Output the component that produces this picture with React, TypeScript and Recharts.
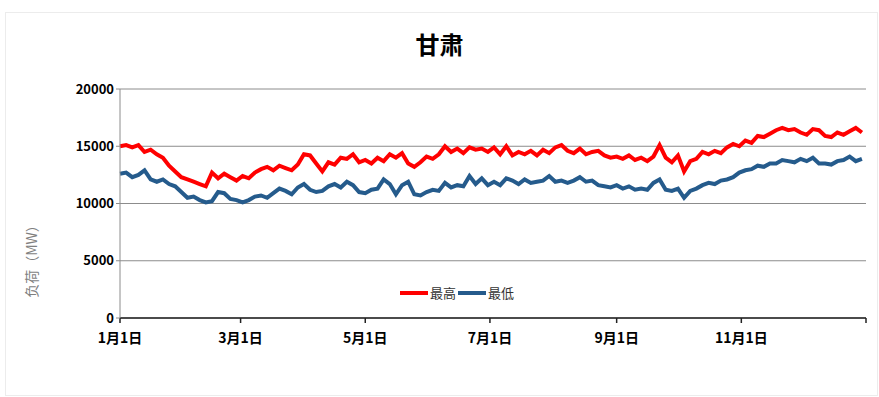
import { CartesianGrid, Line, LineChart, XAxis, YAxis } from 'recharts';

// 每3天取一个点（第0天=1月1日）
const days = [
  0, 3, 6, 9, 12, 15, 18, 21, 24, 27, 30, 33, 36, 39, 42, 45, 48, 51, 54, 57,
  60, 63, 66, 69, 72, 75, 78, 81, 84, 87, 90, 93, 96, 99, 102, 105, 108, 111, 114, 117,
  120, 123, 126, 129, 132, 135, 138, 141, 144, 147, 150, 153, 156, 159, 162, 165, 168, 171, 174, 177,
  180, 183, 186, 189, 192, 195, 198, 201, 204, 207, 210, 213, 216, 219, 222, 225, 228, 231, 234, 237,
  240, 243, 246, 249, 252, 255, 258, 261, 264, 267, 270, 273, 276, 279, 282, 285, 288, 291, 294, 297,
  300, 303, 306, 309, 312, 315, 318, 321, 324, 327, 330, 333, 336, 339, 342, 345, 348, 351, 354, 357,
  360, 363,
];

const maxLoad = [
  15000, 15100, 14900, 15100, 14500, 14700, 14300, 14000, 13300, 12800, 12300, 12100, 11900, 11700, 11500, 12700, 12200, 12600, 12300, 12000,
  12400, 12200, 12700, 13000, 13200, 12900, 13300, 13100, 12900, 13400, 14300, 14200, 13500, 12800, 13600, 13400, 14000, 13900, 14300, 13600,
  13800, 13500, 14000, 13700, 14300, 14000, 14400, 13500, 13200, 13600, 14100, 13900, 14300, 15000, 14500, 14800, 14400, 14900, 14700, 14800,
  14500, 14900, 14300, 15000, 14200, 14500, 14300, 14600, 14200, 14700, 14400, 14900, 15100, 14600, 14400, 14800, 14300, 14500, 14600, 14200,
  14000, 14100, 13900, 14200, 13800, 14000, 13700, 14100, 15100, 14000, 13600, 14200, 12800, 13700, 13900, 14500, 14300, 14600, 14400, 14900,
  15200, 15000, 15500, 15300, 15900, 15800, 16100, 16400, 16600, 16400, 16500, 16200, 16000, 16500, 16400, 15900, 15800, 16200, 16000, 16300,
  16600, 16200,
];

const minLoad = [
  12600, 12700, 12300, 12500, 12900, 12100, 11900, 12100, 11700, 11500, 11000, 10500, 10600, 10300, 10100, 10200, 11000, 10900, 10400, 10300,
  10100, 10300, 10600, 10700, 10500, 10900, 11300, 11100, 10800, 11400, 11700, 11200, 11000, 11100, 11500, 11700, 11400, 11900, 11600, 11000,
  10900, 11200, 11300, 12100, 11700, 10800, 11600, 11900, 10800, 10700, 11000, 11200, 11100, 11800, 11400, 11600, 11500, 12400, 11700, 12200,
  11600, 11900, 11600, 12200, 12000, 11700, 12100, 11800, 11900, 12000, 12400, 11900, 12000, 11800, 12000, 12300, 11900, 12000, 11600, 11500,
  11400, 11600, 11300, 11500, 11200, 11300, 11200, 11800, 12100, 11200, 11100, 11300, 10500, 11100, 11300, 11600, 11800, 11700, 12000, 12100,
  12300, 12700, 12900, 13000, 13300, 13200, 13500, 13500, 13800, 13700, 13600, 13900, 13700, 14000, 13500, 13500, 13400, 13700, 13800, 14100,
  13700, 13900,
];

const xTicks = [0, 59, 120, 181, 243, 304, 365];
const xTickLabels = ['1月1日', '3月1日', '5月1日', '7月1日', '9月1日', '11月1日', ''];
const yTicks = [0, 5000, 10000, 15000, 20000];

const data = days.map((d, i) => ({ day: d, max: maxLoad[i], min: minLoad[i] }));

const cjk = '"Noto Sans CJK SC", "Noto Sans", sans-serif';

function LegendBox() {
  const item = (color: string, label: string) => (
    <span style={{ display: 'inline-flex', alignItems: 'center', marginRight: 2 }}>
      <span style={{ width: 28, height: 4, background: color, display: 'inline-block', marginRight: 2 }} />
      <span style={{ fontSize: 13, color: '#333' }}>{label}</span>
    </span>
  );
  return (
    <div style={{ display: 'flex', fontFamily: cjk }}>
      {item('#ff0000', '最高')}
      {item('#255b8c', '最低')}
    </div>
  );
}

export default function App() {
  return (
    <div
      style={{
        position: 'absolute',
        left: 0,
        top: 0,
        width: 879,
        height: 397,
        background: '#fff',
        fontFamily: cjk,
      }}
    >
      <div
        style={{
          position: 'absolute',
          left: 5,
          top: 12,
          width: 871,
          height: 382,
          border: '1px solid #ececec',
        }}
      />
      <div
        style={{
          position: 'absolute',
          left: 0,
          width: 879,
          top: 26,
          textAlign: 'center',
          fontSize: 24,
          fontWeight: 'bold',
          color: '#000',
        }}
      >
        甘肃
      </div>
      <div
        style={{
          position: 'absolute',
          left: 31,
          top: 258,
          transform: 'translate(-50%, -50%) rotate(-90deg)',
          fontSize: 14,
          color: '#7f7f7f',
          whiteSpace: 'nowrap',
        }}
      >
        负荷（MW）
      </div>
      <div style={{ position: 'absolute', left: 0, top: 0 }}>
        <LineChart width={879} height={397} data={data} margin={{ top: 89, right: 13, left: 58, bottom: 49 }}>
          <CartesianGrid horizontal vertical={false} stroke="#8c8c8c" strokeWidth={1} />
          <XAxis
            dataKey="day"
            type="number"
            domain={[0, 365]}
            ticks={xTicks}
            tickFormatter={(v: number) => xTickLabels[xTicks.indexOf(v)] ?? ''}
            interval={0}
            stroke="#222"
            strokeWidth={1.5}
            tickSize={5}
            height={30}
            tick={{ fontSize: 14, fontWeight: 'bold', fill: '#000', dy: 8 }}
          />
          <YAxis
            type="number"
            domain={[0, 20000]}
            ticks={yTicks}
            interval={0}
            width={62}
            stroke="#8c8c8c"
            tickSize={4}
            tick={{ fontSize: 13, fontWeight: 'bold', fill: '#000' }}
          />
          <Line
            type="linear"
            dataKey="max"
            name="最高"
            stroke="#ff0000"
            strokeWidth={4}
            dot={false}
            isAnimationActive={false}
          />
          <Line
            type="linear"
            dataKey="min"
            name="最低"
            stroke="#255b8c"
            strokeWidth={4}
            dot={false}
            isAnimationActive={false}
          />
        </LineChart>
      </div>
      <div style={{ position: 'absolute', left: 400, top: 283 }}>
        <LegendBox />
      </div>
    </div>
  );
}
